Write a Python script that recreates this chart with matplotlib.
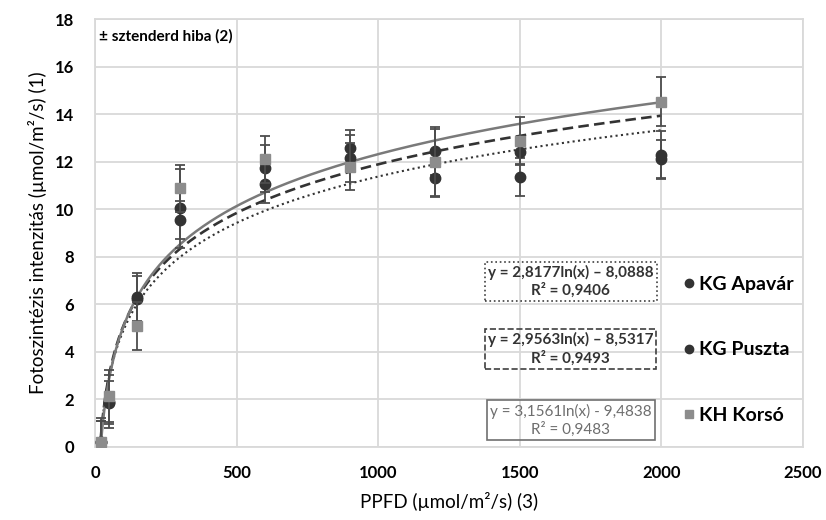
import numpy as np
import matplotlib
matplotlib.use('Agg')
import matplotlib.pyplot as plt
from matplotlib.lines import Line2D

plt.rcParams['font.family'] = ['Lato', 'DejaVu Sans']

ppfd = [20, 50, 150, 300, 600, 900, 1200, 1500, 2000]

apavar = [0.2, 1.85, 6.2, 9.55, 11.06, 12.14, 11.33, 11.37, 12.1]
apavar_err = [0.9, 0.9, 1.0, 0.8, 0.8, 1.0, 0.8, 0.8, 0.8]
puszta = [0.2, 1.9, 6.3, 10.04, 11.72, 12.56, 12.46, 12.39, 12.28]
puszta_err = [0.9, 1.1, 1.0, 1.66, 1.0, 0.77, 1.0, 0.5, 1.0]
korso = [0.2, 2.15, 5.08, 10.88, 12.1, 11.79, 11.97, 12.88, 14.53]
korso_err = [1.0, 1.1, 1.0, 1.0, 1.0, 1.0, 1.4, 1.0, 1.02]

# trendline coefficients: y = a*ln(x) + b
trend_a = [2.8177, 2.9563, 3.1561]
trend_b = [-8.0888, -8.5317, -9.4838]
trend_labels = ['y = 2,8177ln(x) – 8,0888\nR² = 0,9406',
                'y = 2,9563ln(x) – 8,5317\nR² = 0,9493',
                'y = 3,1561ln(x) - 9,4838\nR² = 0,9483']
names = ['KG Apavár', 'KG Puszta', 'KH Korsó']

dark = '#333333'
grey = '#8c8c8c'
errc = '#4d4d4d'

fig = plt.figure(figsize=(8.26, 5.2), dpi=100)
ax = fig.add_axes([0.115, 0.141, 0.857, 0.822])

# trendlines
xs = np.linspace(20, 2000, 400)
styles = [dict(color=dark, ls=(0, (1, 1.6)), lw=1.5),
          dict(color=dark, ls=(0, (4, 2)), lw=1.9),
          dict(color='#7a7a7a', ls='-', lw=1.8)]
for a, b, st in zip(trend_a, trend_b, styles):
    ax.plot(xs, a * np.log(xs) + b, zorder=3, **st)

# points with error bars
ax.errorbar(ppfd, apavar, yerr=apavar_err, fmt='o', color=dark, ms=7.5,
            ecolor=errc, elinewidth=1.3, capsize=3.5, capthick=1.3, zorder=4)
ax.errorbar(ppfd, puszta, yerr=puszta_err, fmt='o', color=dark, ms=7.5,
            ecolor=errc, elinewidth=1.3, capsize=3.5, capthick=1.3, zorder=4)
ax.errorbar(ppfd, korso, yerr=korso_err, fmt='s', color=grey, ms=7,
            ecolor=errc, elinewidth=1.3, capsize=3.5, capthick=1.3, zorder=5)

ax.set_xlim(0, 2500)
ax.set_ylim(0, 18)
ax.set_xticks(range(0, 2501, 500))
ax.set_yticks(range(0, 19, 2))
ax.grid(True, color='#d9d9d9', lw=1.3)
ax.set_axisbelow(True)
for s in ax.spines.values():
    s.set_color('#d9d9d9')
    s.set_linewidth(1.3)
ax.tick_params(length=0, labelsize=12, pad=13)
for lab in ax.get_xticklabels() + ax.get_yticklabels():
    lab.set_fontweight('bold')
ax.tick_params(axis='y', pad=15)

ax.set_xlabel('PPFD (µmol/m²/s) (3)', fontsize=13.5, labelpad=8)
ax.set_ylabel('Fotoszintézis intenzitás (µmol/m²/s) (1)', fontsize=13.5, labelpad=6)

ax.text(0.006, 0.978, '± sztenderd hiba (2)', transform=ax.transAxes,
        fontsize=11, fontweight='bold', va='top', ha='left')

# equation boxes
box_y = [6.96, 4.11, 1.12]
box_ls = [':', '--', '-']
box_ec = ['#404040', '#404040', '#707070']
box_tc = ['#333333', '#333333', '#6e6e6e']
box_fw = ['bold', 'bold', 'normal']
for lbl, yy, ls, ec, tc, fw in zip(trend_labels, box_y, box_ls, box_ec, box_tc, box_fw):
    ax.text(1680, yy, lbl, ha='center', va='center', multialignment='center',
            fontsize=11, color=tc, fontweight=fw, zorder=6, linespacing=1.25,
            bbox=dict(boxstyle='square,pad=0.2', fc='none', ec=ec, ls=ls, lw=1.2))

handles = [Line2D([], [], marker='o', ls='none', color=dark, ms=6),
           Line2D([], [], marker='o', ls='none', color=dark, ms=6),
           Line2D([], [], marker='s', ls='none', color=grey, ms=6)]
leg = ax.legend(handles, names, loc='upper left', bbox_to_anchor=(0.828, 0.40),
                frameon=False, prop=dict(size=14, weight='bold'),
                labelspacing=2.5, handletextpad=0.1, handlelength=0.8,
                borderaxespad=0, borderpad=0)

fig.savefig('out.png', dpi=100)
